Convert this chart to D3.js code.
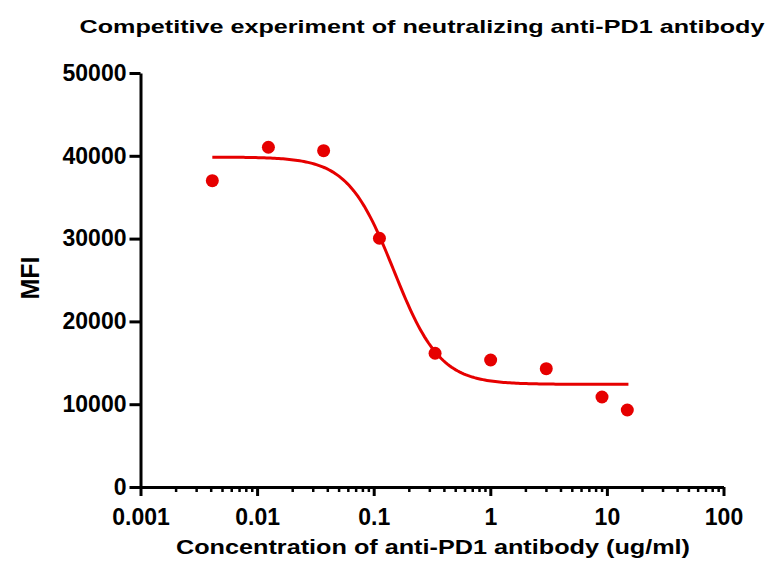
<!DOCTYPE html>
<html>
<head>
<meta charset="utf-8">
<script src="https://cdn.jsdelivr.net/npm/d3@7"></script>
<style>
  html, body { margin: 0; padding: 0; background: #fff; }
  svg { display: block; }
  text { font-family: Arial, "Liberation Sans", sans-serif; font-weight: bold; fill: #000; }
</style>
</head>
<body>
<svg id="chart" width="771" height="563"></svg>
<script>
// ---- data ----
const titleText = "Competitive experiment of neutralizing anti-PD1 antibody";
const xLabelText = "Concentration of anti-PD1 antibody (ug/ml)";
const yLabelText = "MFI";
const xMajorTicks = [0.001, 0.01, 0.1, 1, 10, 100];
const xTickLabels = ["0.001", "0.01", "0.1", "1", "10", "100"];
const yTicks = [0, 10000, 20000, 30000, 40000, 50000];
const yTickLabels = ["0", "10000", "20000", "30000", "40000", "50000"];
const concentration = [0.00413, 0.0125, 0.0372, 0.112, 0.336, 1.007, 3.02, 9.08, 14.96];
const mfi = [37000, 41030, 40620, 30040, 16150, 15340, 14290, 10870, 9300];
// four-parameter logistic fit shown as the red curve
const fitTop = 39850;
const fitBottom = 12400;
const fitEC50 = 0.149;
const fitHill = 2.2;
const fitRange = [0.00413, 15.3];

// ---- layout ----
const svg = d3.select("#chart");
const x = d3.scaleLog().domain([0.001, 100]).range([140.5, 723.5]);
const y = d3.scaleLinear().domain([0, 50000]).range([487, 73]);
const red = "#e60000";

// minor ticks
const minorTicks = [];
for (let d = -3; d < 2; d++) {
  for (let m = 2; m <= 9; m++) minorTicks.push(m * Math.pow(10, d));
}

// x axis minor
const gxMinor = svg.append("g").attr("transform", "translate(0,487)")
  .call(d3.axisBottom(x).tickValues(minorTicks).tickSize(5).tickSizeOuter(0).tickFormat(""));
gxMinor.select(".domain").remove();
gxMinor.selectAll("line").attr("stroke", "#000").attr("stroke-width", 2.5);

// x axis major
const gx = svg.append("g").attr("transform", "translate(0,487)")
  .call(d3.axisBottom(x).tickValues(xMajorTicks).tickSize(9).tickSizeOuter(0)
    .tickFormat((d, i) => xTickLabels[i]));
gx.select(".domain").attr("stroke", "#000").attr("stroke-width", 3);
gx.selectAll("line").attr("stroke", "#000").attr("stroke-width", 3);
gx.selectAll("text")
  .attr("y", 38).attr("dy", null)
  .style("font-size", "23px").style("font-weight", "bold")
  .style("font-family", "Arial, 'Liberation Sans', sans-serif").attr("fill", "#000");

// y axis
const gy = svg.append("g").attr("transform", "translate(140.5,0)")
  .call(d3.axisLeft(y).tickValues(yTicks).tickSize(11).tickSizeOuter(0).tickPadding(3)
    .tickFormat((d, i) => yTickLabels[i]));
gy.select(".domain").attr("stroke", "#000").attr("stroke-width", 3);
gy.selectAll("line").attr("stroke", "#000").attr("stroke-width", 3);
gy.selectAll("text")
  .style("font-size", "23px").style("font-weight", "bold")
  .style("font-family", "Arial, 'Liberation Sans', sans-serif").attr("fill", "#000");

// fitted curve
const logistic = c => fitBottom + (fitTop - fitBottom) / (1 + Math.pow(c / fitEC50, fitHill));
const curveX = d3.range(0, 201).map(i =>
  Math.pow(10, Math.log10(fitRange[0]) + (Math.log10(fitRange[1]) - Math.log10(fitRange[0])) * i / 200));
svg.append("path")
  .datum(curveX)
  .attr("fill", "none").attr("stroke", red).attr("stroke-width", 3)
  .attr("d", d3.line().x(d => x(d)).y(d => y(logistic(d))));

// points
svg.append("g").selectAll("circle")
  .data(concentration.map((c, i) => ({ c, v: mfi[i] })))
  .join("circle")
  .attr("cx", d => x(d.c)).attr("cy", d => y(d.v)).attr("r", 6.5)
  .attr("fill", red);

// title
svg.append("text")
  .attr("x", 422).attr("y", 33).attr("text-anchor", "middle")
  .style("font-size", "19px")
  .attr("textLength", 685).attr("lengthAdjust", "spacingAndGlyphs")
  .text(titleText);

// x label
svg.append("text")
  .attr("x", 433).attr("y", 554).attr("text-anchor", "middle")
  .style("font-size", "20px")
  .attr("textLength", 514).attr("lengthAdjust", "spacingAndGlyphs")
  .text(xLabelText);

// y label
svg.append("text")
  .attr("transform", "translate(39,278) rotate(-90)")
  .attr("text-anchor", "middle")
  .style("font-size", "25px")
  .text(yLabelText);
</script>
</body>
</html>
